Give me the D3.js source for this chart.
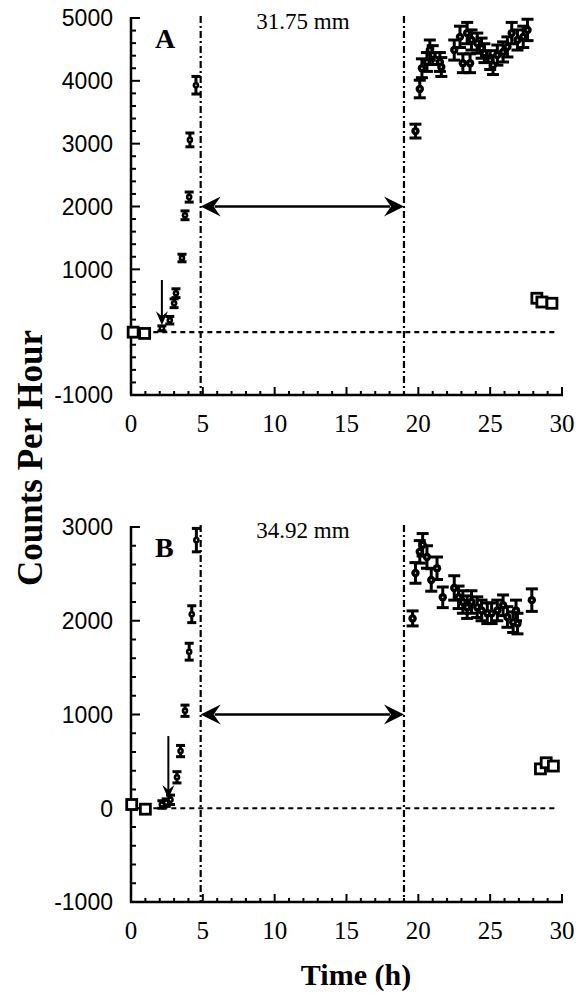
<!DOCTYPE html>
<html lang="en">
<head>
<meta charset="UTF-8">
<script src="https://cdn.jsdelivr.net/npm/d3@7"></script>
<style>
  body { margin: 0; background: #fff; }
  svg { display: block; }
  .ylab { font-family: "Liberation Sans", Arial, sans-serif; font-size: 23px; }
  .xlab { font-family: "Liberation Serif", serif; font-size: 25px; }
</style>
</head>
<body>
<div id="chart"></div>
<script>
// ---------- data ----------
const xTicks = [0, 5, 10, 15, 20, 25, 30];
const aYTicks = [-1000, 0, 1000, 2000, 3000, 4000, 5000];
const bYTicks = [-1000, 0, 1000, 2000, 3000];

// panel A (31.75 mm)
const aRiseT = [2.15, 2.7, 3.0, 3.13, 3.55, 3.76, 4.05, 4.1, 4.52];
const aRiseV = [60, 190, 460, 620, 1180, 1860, 2150, 3060, 3930];
const aRiseE = [40, 60, 70, 70, 60, 70, 80, 110, 140];
const aPlatT = [19.8, 20.1, 20.25, 20.6, 20.8, 21.0, 21.5, 21.6, 22.5, 22.9, 23.1, 23.4, 23.6, 23.7, 24.1, 24.4, 24.6, 25.0, 25.2, 25.5, 25.9, 26.2, 26.5, 26.9, 27.3, 27.6];
const aPlatV = [3200, 3870, 4200, 4300, 4490, 4410, 4300, 4220, 4490, 4700, 4280, 4760, 4280, 4650, 4600, 4520, 4440, 4330, 4250, 4410, 4460, 4540, 4760, 4650, 4700, 4810];
const aPlatE = [110, 140, 150, 150, 160, 150, 150, 150, 160, 170, 150, 170, 150, 160, 160, 160, 150, 150, 150, 160, 160, 160, 170, 160, 170, 170];
const aSqT = [0.15, 0.95, 28.25, 28.6, 29.3];
const aSqV = [0, -20, 540, 480, 460];

// panel B (34.92 mm)
const bRiseT = [2.15, 2.45, 2.75, 3.2, 3.45, 3.76, 4.05, 4.23, 4.55];
const bRiseV = [40, 60, 90, 330, 610, 1040, 1670, 2070, 2860];
const bRiseE = [40, 40, 50, 60, 60, 60, 90, 90, 125];
const bPlatT = [19.6, 19.8, 20.1, 20.3, 20.6, 20.9, 21.3, 21.7, 22.5, 22.8, 23.1, 23.4, 23.7, 24.1, 24.4, 24.8, 25.1, 25.5, 25.9, 26.2, 26.6, 26.8, 26.9, 27.9];
const bPlatV = [2025, 2510, 2735, 2810, 2680, 2435, 2560, 2250, 2350, 2250, 2200, 2145, 2200, 2145, 2110, 2080, 2080, 2110, 2165, 2040, 1985, 2110, 1970, 2220];
const bPlatE = [80, 110, 120, 120, 120, 120, 120, 110, 130, 120, 120, 120, 120, 110, 110, 110, 110, 110, 110, 110, 110, 110, 110, 120];
const bSqT = [0.05, 1.0, 28.5, 28.9, 29.4];
const bSqV = [40, -10, 420, 485, 450];

const panels = [
  { letter: "A", label: "31.75 mm", yTicks: aYTicks, top: 18, bottom: 395, ymax: 5000, arrowY: 2000, down: [2.15, 830, 110],
    rise: [aRiseT, aRiseV, aRiseE], plat: [aPlatT, aPlatV, aPlatE], sq: [aSqT, aSqV] },
  { letter: "B", label: "34.92 mm", yTicks: bYTicks, top: 527, bottom: 902, ymax: 3000, arrowY: 1000, down: [2.6, 770, 100],
    rise: [bRiseT, bRiseV, bRiseE], plat: [bPlatT, bPlatV, bPlatE], sq: [bSqT, bSqV] }
];
const lineT = [4.85, 19.0];

// ---------- drawing ----------
const svg = d3.select("#chart").append("svg").attr("width", 576).attr("height", 998);
const x = d3.scaleLinear().domain([0, 30]).range([131, 562]);

// barbed arrowhead pointing right, tip at origin
const head = "M0,0 L-20,-10 L-13,0 L-20,10 Z";

panels.forEach(p => {
  const y = d3.scaleLinear().domain([-1000, p.ymax]).range([p.bottom, p.top]);
  const g = svg.append("g");

  // y axis
  const yMinor = d3.range(-1000, p.ymax + 1, 200);
  g.append("line").attr("x1", x(0)).attr("x2", x(0)).attr("y1", y(p.ymax) - 1).attr("y2", p.bottom)
    .attr("stroke", "#000").attr("stroke-width", 2.5);
  g.selectAll(".yt").data(yMinor).enter().append("line")
    .attr("x1", x(0)).attr("x2", d => x(0) + (d % 1000 === 0 ? 9 : 5))
    .attr("y1", d => y(d)).attr("y2", d => y(d))
    .attr("stroke", "#000").attr("stroke-width", 2);
  g.selectAll(".ylab").data(p.yTicks).enter().append("text").attr("class", "ylab")
    .attr("x", 113).attr("y", d => y(d)).attr("dy", "0.36em").attr("text-anchor", "end")
    .text(d => d);

  // x axis
  g.append("line").attr("x1", x(0) - 1).attr("x2", x(30) + 1).attr("y1", p.bottom).attr("y2", p.bottom)
    .attr("stroke", "#000").attr("stroke-width", 2.5);
  g.selectAll(".xt").data(d3.range(0, 31, 1)).enter().append("line")
    .attr("x1", d => x(d)).attr("x2", d => x(d))
    .attr("y1", p.bottom).attr("y2", d => p.bottom - (d % 5 === 0 ? 8 : 4))
    .attr("stroke", "#000").attr("stroke-width", 2);
  g.selectAll(".xlab").data(xTicks).enter().append("text").attr("class", "xlab")
    .attr("x", d => x(d)).attr("y", p.bottom + 37).attr("text-anchor", "middle")
    .text(d => d);

  // zero dotted line
  g.append("line").attr("x1", x(0.3)).attr("x2", x(29.7)).attr("y1", y(0)).attr("y2", y(0))
    .attr("stroke", "#000").attr("stroke-width", 2.2).attr("stroke-dasharray", "5,4");

  // dash-dot vertical lines
  g.selectAll(".vl").data(lineT).enter().append("line")
    .attr("x1", d => x(d)).attr("x2", d => x(d)).attr("y1", p.top - 2).attr("y2", p.bottom)
    .attr("stroke", "#000").attr("stroke-width", 2.2).attr("stroke-dasharray", "7,3,2,3");

  // double arrow between lines
  const ay = y(p.arrowY);
  g.append("line").attr("x1", x(lineT[0]) + 14).attr("x2", x(lineT[1]) - 14).attr("y1", ay).attr("y2", ay)
    .attr("stroke", "#000").attr("stroke-width", 2.5);
  g.append("path").attr("d", head).attr("transform", `translate(${x(lineT[1])},${ay})`);
  g.append("path").attr("d", head).attr("transform", `translate(${x(lineT[0])},${ay}) rotate(180)`);

  // small down arrow marking start
  const [dt, d0, d1] = p.down;
  g.append("line").attr("x1", x(dt)).attr("x2", x(dt)).attr("y1", y(d0)).attr("y2", y(d1) - 6)
    .attr("stroke", "#000").attr("stroke-width", 2);
  g.append("path").attr("d", "M0,0 L-14,-6 L-9,0 L-14,6 Z")
    .attr("transform", `translate(${x(dt)},${y(d1)}) rotate(90)`);

  // error bars + markers
  const drawSeries = (T, V, E, capW, r) => {
    const pts = T.map((t, i) => ({ t: t, v: V[i], e: E[i] }));
    const s = g.append("g");
    pts.forEach(d => {
      const cx = x(d.t), lo = y(d.v - d.e), hi = y(d.v + d.e);
      s.append("line").attr("x1", cx).attr("x2", cx).attr("y1", lo).attr("y2", hi)
        .attr("stroke", "#000").attr("stroke-width", 3);
      [lo, hi].forEach(yy => s.append("line").attr("x1", cx - capW / 2).attr("x2", cx + capW / 2)
        .attr("y1", yy).attr("y2", yy).attr("stroke", "#000").attr("stroke-width", 3));
    });
    s.selectAll("circle.m").data(pts).enter().append("circle")
      .attr("cx", d => x(d.t)).attr("cy", d => y(d.v)).attr("r", r).attr("fill", "#000");
    s.selectAll("circle.c").data(pts).enter().append("circle")
      .attr("cx", d => x(d.t)).attr("cy", d => y(d.v)).attr("r", 0.8).attr("fill", "#fff");
  };
  drawSeries(p.rise[0], p.rise[1], p.rise[2], 9, 3.3);
  drawSeries(p.plat[0], p.plat[1], p.plat[2], 12, 4.2);

  // open squares (controls)
  g.selectAll(".sq").data(p.sq[0].map((t, i) => ({ t: t, v: p.sq[1][i] }))).enter().append("rect")
    .attr("x", d => x(d.t) - 5).attr("y", d => y(d.v) - 5).attr("width", 10).attr("height", 10)
    .attr("fill", "#fff").attr("stroke", "#000").attr("stroke-width", 2.8);

  // panel letter and thickness label
  g.append("text").attr("x", 155).attr("y", p.top + 30)
    .style("font-family", "'Liberation Serif', serif").style("font-weight", "bold").style("font-size", "28px")
    .text(p.letter);
  g.append("text").attr("x", 303).attr("y", p.top + 11).attr("text-anchor", "middle")
    .style("font-family", "'Liberation Serif', serif").style("font-size", "23px")
    .text(p.label);
});

// axis titles
svg.append("text").attr("transform", "translate(42,458) rotate(-90)").attr("text-anchor", "middle")
  .style("font-family", "'Liberation Serif', serif").style("font-weight", "bold").style("font-size", "35px")
  .text("Counts Per Hour");
svg.append("text").attr("x", 356).attr("y", 985).attr("text-anchor", "middle")
  .style("font-family", "'Liberation Serif', serif").style("font-weight", "bold").style("font-size", "30px")
  .text("Time (h)");
</script>
</body>
</html>
